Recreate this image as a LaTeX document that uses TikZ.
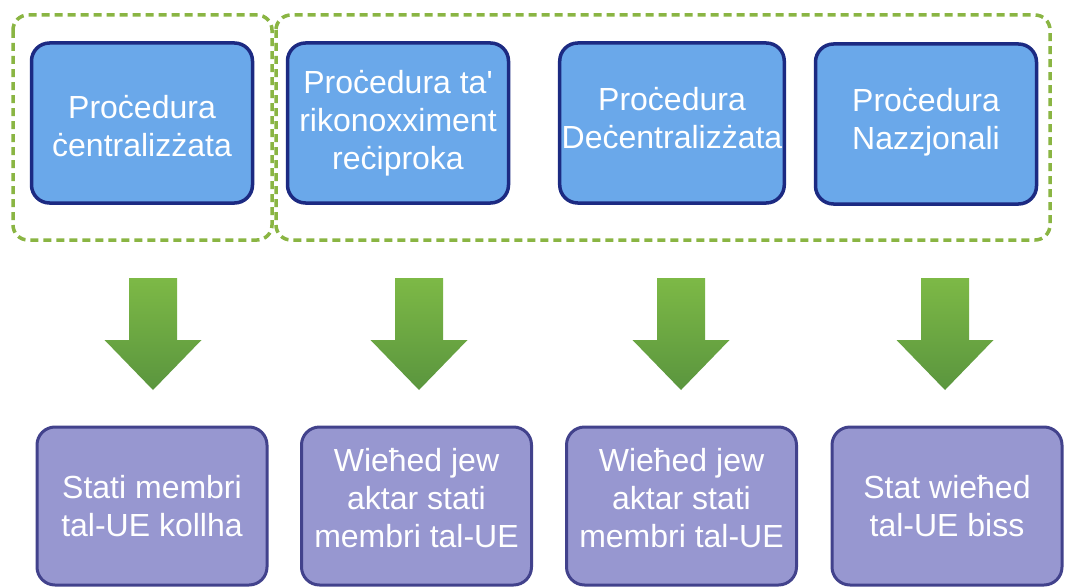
\documentclass[tikz,border=0pt]{standalone}
\usepackage{fontspec}
\setmainfont{Liberation Sans}[Ligatures=TeXOff]
\definecolor{topfill}{HTML}{6AA8EA}
\definecolor{topline}{HTML}{1C2A82}
\definecolor{botfill}{HTML}{9797D0}
\definecolor{botline}{HTML}{42428C}
\definecolor{grpline}{HTML}{8AB543}
\definecolor{arrtop}{HTML}{7DB946}
\definecolor{arrbot}{HTML}{5A953E}
\tikzset{
  topbox/.style={draw=topline, fill=topfill, line width=3.5pt, rounded corners=18pt,
    minimum width=221pt, minimum height=160pt, text=white, align=center,
    font=\fontsize{32}{38}\selectfont, inner sep=2pt},
  botbox/.style={draw=botline, fill=botfill, line width=3pt, rounded corners=18pt,
    minimum width=230pt, minimum height=158pt, text=white, align=center,
    font=\fontsize{32}{38}\selectfont, inner sep=2pt},
  grp/.style={draw=grpline, line width=3.5pt, dash pattern=on 8pt off 5pt,
    rounded corners=15pt},
  bigarrow/.style={top color=arrtop, bottom color=arrbot, draw=none}
}
\begin{document}
\begin{tikzpicture}[x=1pt,y=-1pt]
\useasboundingbox (0,0) rectangle (1070,586);
\fill[white] (0,0) rectangle (1070,586);
% groups
\draw[grp] (13,15) rectangle (272,240);
\draw[grp] (276,15) rectangle (1050,240);
% top boxes
\node[topbox, text height=66pt, text depth=0pt] (b1) at (142,123) {Proċedura\\ċentralizżata};
\node[topbox] (b2) at (398,123) {Proċedura ta'\\rikonoxximent\\reċiproka};
\node[topbox, text height=50pt, text depth=0pt] (b3) at (672,123) {Proċedura\\Deċentralizżata};
\node[topbox, text height=50pt, text depth=0pt] (b4) at (926,124) {Proċedura\\Nazzjonali};
% bottom boxes
\node[botbox] (c1) at (152,506) {Stati membri\\tal-UE kollha};
\node[botbox, text height=82pt, text depth=0pt] (c2) at (416.5,506) {Wieħed jew\\aktar stati\\membri tal-UE};
\node[botbox, text height=82pt, text depth=0pt] (c3) at (681.5,506) {Wieħed jew\\aktar stati\\membri tal-UE};
\node[botbox] (c4) at (947,506) {Stat wieħed\\tal-UE biss};
% arrows
\foreach \cx in {153,419,681,945}{
  \shade[bigarrow] (\cx-24,278) -- (\cx+24,278) -- (\cx+24,340) -- (\cx+48.5,340)
    -- (\cx,390) -- (\cx-48.5,340) -- (\cx-24,340) -- cycle;
}
\end{tikzpicture}
\end{document}
